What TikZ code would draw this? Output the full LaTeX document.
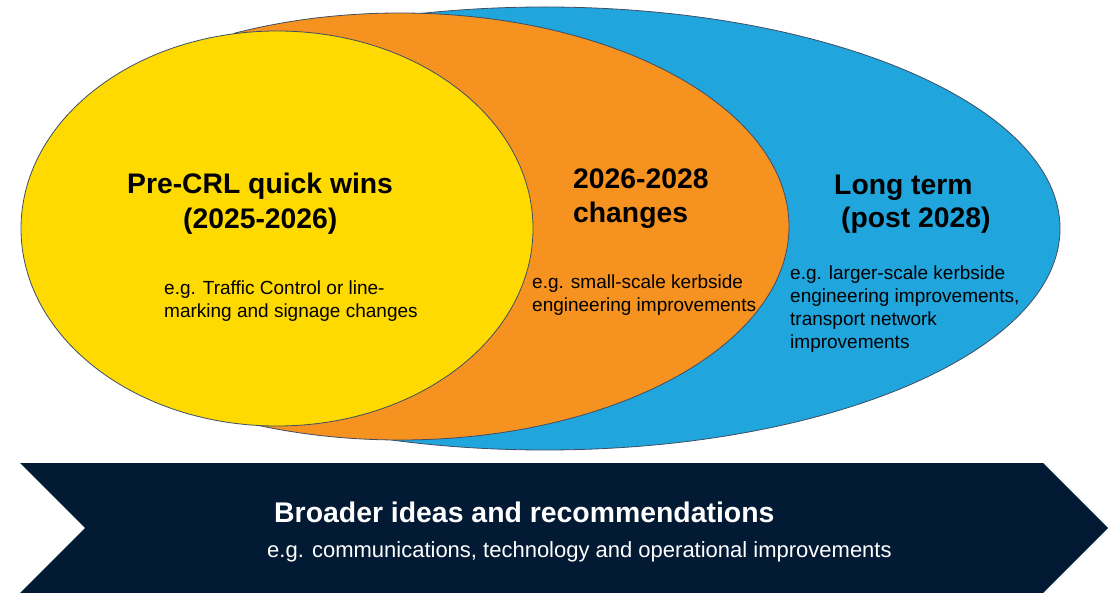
\documentclass[tikz,border=0pt]{standalone}
\usepackage{fontspec}
\setmainfont{Liberation Sans}
\definecolor{cyellow}{RGB}{255,218,0}
\definecolor{corange}{RGB}{246,146,32}
\definecolor{cblue}{RGB}{32,165,221}
\definecolor{cnavy}{RGB}{2,26,51}
\definecolor{cedge}{RGB}{62,78,100}
\begin{document}
\begin{tikzpicture}[x=1pt,y=-1pt,
  zone/.style={draw=cedge,line width=0.8pt},
  title/.style={anchor=base west,inner sep=0pt,font=\fontsize{28.3}{33}\selectfont\bfseries},
  body/.style={anchor=base west,inner sep=0pt,font=\fontsize{19}{23}\selectfont},
  wtitle/.style={anchor=base west,inner sep=0pt,text=white,font=\fontsize{28.4}{33}\selectfont\bfseries},
  wbody/.style={anchor=base west,inner sep=0pt,text=white,font=\fontsize{22}{26}\selectfont}]
\useasboundingbox (0,0) rectangle (1114,593);
% blue ellipse, hidden behind orange on the left
\begin{scope}
  \clip (391,-10) rectangle (1114,600);
  \draw[zone,fill=cblue] (545,228.5) ellipse [x radius=515, y radius=221.5];
\end{scope}
% orange ellipse, hidden behind yellow on the left
\begin{scope}
  \clip (233,-10) rectangle (1114,600);
  \draw[zone,fill=corange] (400,226.5) ellipse [x radius=389, y radius=213.5];
\end{scope}
\draw[zone,fill=cyellow] (277,228.5) ellipse [x radius=256, y radius=197.5];
% chevron
\fill[cnavy] (20,463) -- (1043,463) -- (1108,528) -- (1043,593) -- (20,593) -- (85,528) -- cycle;
% yellow texts
\node[title] (t1a) at (127,194) {Pre-CRL quick wins};
\node[title] (t1b) at (183,229) {(2025-2026)};
\node[body] (b1a) at (164,295) {e.g. Traffic Control or line-};
\node[body] (b1b) at (164,317.5) {marking and signage changes};
% orange texts
\node[title] (t2a) at (573,189) {2026-2028};
\node[title] (t2b) at (573,223) {changes};
\node[body] (b2a) at (532,289) {e.g. small-scale kerbside};
\node[body] (b2b) at (532,312) {engineering improvements};
% blue texts
\node[title] (t3a) at (834,195) {Long term};
\node[title] (t3b) at (841,228) {(post 2028)};
\node[body] (b3a) at (790,280) {e.g. larger-scale kerbside};
\node[body] (b3b) at (790,303) {engineering improvements,};
\node[body] (b3c) at (790,326) {transport network};
\node[body] (b3d) at (790,349) {improvements};
% chevron texts
\node[wtitle] (t4) at (274,522) {Broader ideas and recommendations};
\node[wbody] (b4) at (267,557) {e.g. communications, technology and operational improvements};
\end{tikzpicture}
\end{document}
